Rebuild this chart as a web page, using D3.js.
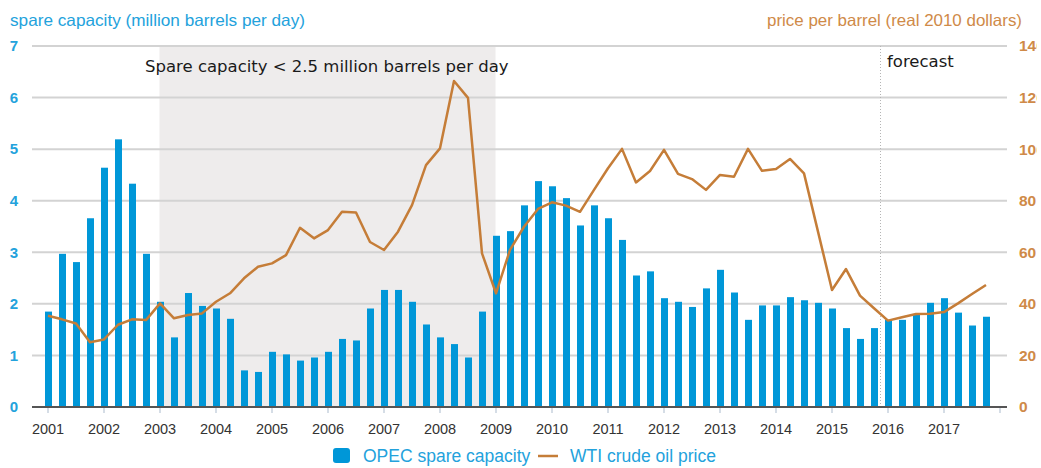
<!DOCTYPE html>
<html>
<head>
<meta charset="utf-8">
<script src="https://cdn.jsdelivr.net/npm/d3@7"></script>
<style>
  html, body { margin: 0; padding: 0; background: #fff; }
  svg { display: block; }
</style>
</head>
<body>
<svg id="chart" width="1041" height="468"></svg>
<script>
// ---- data (quarterly, 2001Q1 .. 2017Q4) ----
const years = [2001,2002,2003,2004,2005,2006,2007,2008,2009,2010,2011,2012,2013,2014,2015,2016,2017];
const quarters = d3.range(68); // quarter index from 2001Q1
const spareCapacity = [
  1.85,2.97,2.81,3.66, 4.64,5.19,4.33,2.97, 2.04,1.35,2.21,1.96, 1.91,1.71,0.71,0.68,
  1.07,1.02,0.90,0.96, 1.07,1.32,1.29,1.91, 2.27,2.27,2.04,1.60, 1.35,1.22,0.96,1.85,
  3.32,3.41,3.91,4.38, 4.28,4.05,3.52,3.91, 3.66,3.24,2.55,2.63, 2.11,2.04,1.94,2.30,
  2.66,2.22,1.69,1.97, 1.97,2.13,2.07,2.02, 1.91,1.53,1.32,1.53, 1.69,1.69,1.80,2.02,
  2.11,1.83,1.58,1.75
];
const wtiPrice = [
  35.4,34.0,32.4,25.1, 26.2,31.9,34.0,33.7, 40.2,34.4,35.7,36.3, 40.8,44.1,49.9,54.4,
  55.7,58.9,69.5,65.4, 68.6,75.7,75.4,64.0, 60.9,68.0,78.3,93.8, 100.3,126.4,119.9,59.6,
  44.1,60.9,69.9,76.8, 79.4,78.1,75.7,84.2, 92.6,100.1,87.1,91.5, 99.7,90.4,88.4,84.2,
  90.0,89.3,100.1,91.6, 92.3,96.2,90.6,68.0, 45.4,53.5,43.2,38.3, 33.5,34.8,36.1,36.2,
  36.8,40.2,43.8,47.3
];
const leftTicks = [0,1,2,3,4,5,6,7];
const rightTicks = [0,20,40,60,80,100,120,140];
const shadeRange = [8, 32];      // 2003Q1 .. 2009Q1 (quarter index)
const forecastStart = 59.5;      // between 2015Q4 and 2016Q1
const labels = {
  left: "spare capacity (million barrels per day)",
  right: "price per barrel (real 2010 dollars)",
  shade: "Spare capacity < 2.5 million barrels per day",
  forecast: "forecast",
  legendBar: "OPEC spare capacity",
  legendLine: "WTI crude oil price"
};

// ---- colours ----
const BLUE = "#0097d8";
const BLUE_TXT = "#23a2dc";
const ORANGE = "#c57d38";
const ORANGE_TXT = "#cf8a48";

const svg = d3.select("#chart");
const x = d3.scaleLinear().domain([0, 67]).range([47.5, 985.5]);
const yL = d3.scaleLinear().domain([0, 7]).range([407, 46]);
const yR = d3.scaleLinear().domain([0, 140]).range([407, 46]);
const plotLeft = 32, plotRight = 1007;

// shaded region
svg.append("rect")
  .attr("x", x(shadeRange[0])).attr("y", yL(7))
  .attr("width", x(shadeRange[1]) - x(shadeRange[0]))
  .attr("height", yL(0) - yL(7))
  .attr("fill", "#eeecec");

// gridlines
svg.append("g").selectAll("line").data(leftTicks.filter(d => d > 0)).join("line")
  .attr("x1", plotLeft).attr("x2", plotRight)
  .attr("y1", d => yL(d)).attr("y2", d => yL(d))
  .attr("stroke", "#d3d3d3").attr("stroke-width", 2);

// forecast divider
svg.append("line")
  .attr("x1", x(forecastStart)).attr("x2", x(forecastStart))
  .attr("y1", yL(7)).attr("y2", yL(0))
  .attr("stroke", "#b5b5b5").attr("stroke-width", 1)
  .attr("stroke-dasharray", "1,2");

// bars
const barW = 7;
svg.append("g").selectAll("rect").data(quarters).join("rect")
  .attr("x", i => x(i) - barW / 2 + 1)
  .attr("y", i => yL(spareCapacity[i]))
  .attr("width", barW)
  .attr("height", i => yL(0) - yL(spareCapacity[i]))
  .attr("fill", BLUE);

// x axis baseline + ticks
const xAxis = d3.axisBottom(x)
  .tickValues(d3.range(0, 69, 4))
  .tickSize(6)
  .tickFormat(i => { const yr = 2001 + i / 4; return years.includes(yr) ? String(yr) : ""; });
const gx = svg.append("g").attr("transform", `translate(0,${yL(0)})`).call(xAxis);
gx.select(".domain").remove();
gx.selectAll(".tick line").attr("stroke", "#d5dde6").attr("stroke-width", 2);
gx.selectAll(".tick text")
  .attr("y", 17).attr("dy", "0.71em")
  .attr("fill", "#333").attr("font-family", "Liberation Sans, Arial, sans-serif")
  .attr("font-size", 14.5);
svg.append("line")
  .attr("x1", plotLeft).attr("x2", plotRight)
  .attr("y1", yL(0)).attr("y2", yL(0))
  .attr("stroke", "#555").attr("stroke-width", 2);

// price line
const line = d3.line().x(i => x(i) + 0.5).y(i => yR(wtiPrice[i]));
svg.append("path").datum(quarters)
  .attr("d", line).attr("fill", "none")
  .attr("stroke", ORANGE).attr("stroke-width", 2.5)
  .attr("stroke-linejoin", "round");

// left axis labels
const yAxisL = d3.axisLeft(yL).tickValues(leftTicks).tickSize(0).tickFormat(d3.format("d"));
const gl = svg.append("g").attr("transform", "translate(22,0)").call(yAxisL);
gl.select(".domain").remove();
gl.selectAll(".tick text")
  .attr("x", -8).attr("text-anchor", "middle")
  .attr("fill", BLUE_TXT).attr("font-family", "Liberation Sans, Arial, sans-serif")
  .attr("font-size", 15).attr("font-weight", "bold");

// right axis labels (clipped at the image edge like the original)
svg.append("clipPath").attr("id", "rclip")
  .append("rect").attr("x", 1000).attr("y", 0).attr("width", 37).attr("height", 468);
const yAxisR = d3.axisRight(yR).tickValues(rightTicks).tickSize(0).tickFormat(d3.format("d"));
const gr = svg.append("g").attr("clip-path", "url(#rclip)")
  .append("g").attr("transform", "translate(1011,0)").call(yAxisR);
gr.select(".domain").remove();
gr.selectAll(".tick text")
  .attr("x", 8)
  .attr("fill", ORANGE_TXT).attr("font-family", "Liberation Sans, Arial, sans-serif")
  .attr("font-size", 15.5).attr("font-weight", "bold");

// axis titles
svg.append("text").attr("x", 10).attr("y", 26)
  .attr("fill", BLUE_TXT).attr("font-family", "Liberation Sans, Arial, sans-serif")
  .attr("font-size", 16.5).attr("textLength", 295).attr("lengthAdjust", "spacingAndGlyphs")
  .text(labels.left);
svg.append("text").attr("x", 1022).attr("y", 26).attr("text-anchor", "end")
  .attr("fill", ORANGE_TXT).attr("font-family", "Liberation Sans, Arial, sans-serif")
  .attr("font-size", 16.5).attr("textLength", 255).attr("lengthAdjust", "spacingAndGlyphs")
  .text(labels.right);

// annotations
svg.append("text").attr("x", 145).attr("y", 72)
  .attr("fill", "#1a1a1a").attr("font-family", "DejaVu Sans, Verdana, sans-serif")
  .attr("font-size", 16.5).text(labels.shade);
svg.append("text").attr("x", 887).attr("y", 67)
  .attr("fill", "#1a1a1a").attr("font-family", "DejaVu Sans, Verdana, sans-serif")
  .attr("font-size", 16.5).text(labels.forecast);

// legend
const lg = svg.append("g");
lg.append("rect").attr("x", 333).attr("y", 448).attr("width", 17).attr("height", 15)
  .attr("rx", 3).attr("fill", BLUE);
lg.append("text").attr("x", 363).attr("y", 462)
  .attr("fill", BLUE_TXT).attr("font-family", "Liberation Sans, Arial, sans-serif")
  .attr("font-size", 17.5).text(labels.legendBar);
lg.append("line").attr("x1", 538).attr("x2", 558).attr("y1", 456).attr("y2", 456)
  .attr("stroke", ORANGE).attr("stroke-width", 2.5);
lg.append("text").attr("x", 570).attr("y", 462)
  .attr("fill", BLUE_TXT).attr("font-family", "Liberation Sans, Arial, sans-serif")
  .attr("font-size", 17.5).text(labels.legendLine);
</script>
</body>
</html>
